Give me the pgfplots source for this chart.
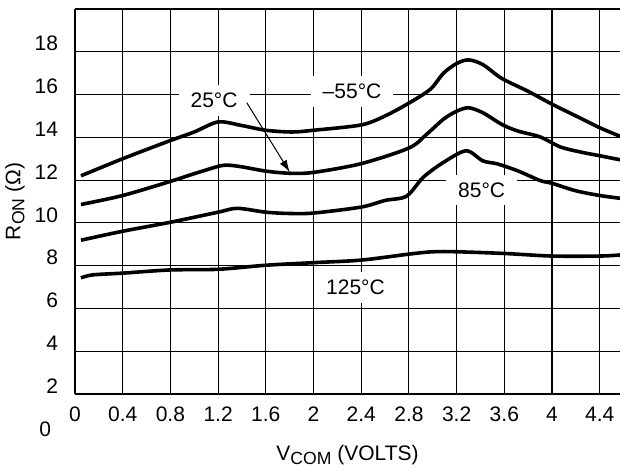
\documentclass[border=0pt]{standalone}
\usepackage{pgfplots}
\pgfplotsset{compat=1.18}
\usepackage{fontspec}
\setmainfont{Liberation Sans}
\usetikzlibrary{arrows.meta}
\newcommand{\sub}[1]{{\fontsize{8.8}{10}\selectfont\raisebox{-2pt}{#1}}}

\begin{document}
\begin{tikzpicture}
\useasboundingbox (-37.5pt,-38pt) rectangle (272.5pt,197pt);
\begin{axis}[
  at={(0,0)}, anchor=south west,
  width=272.5pt, height=192.5pt, scale only axis,
  xmin=0, xmax=4.57, ymin=2, ymax=20,
  axis x line=bottom, axis y line=left,
  axis line style={-, line width=1.1pt},
  xtick={0,0.4,0.8,1.2,1.6,2,2.4,2.8,3.2,3.6,4,4.4},
  xticklabels={0,0.4,0.8,1.2,1.6,2,2.4,2.8,3.2,3.6,4,4.4},
  ytick={2,4,6,8,10,12,14,16,18,20},
  yticklabels={2,4,6,8,10,12,14,16,18,{}},
  major tick length=0pt,
  grid=major,
  major grid style={line width=0.55pt, black},
  /pgf/number format/assume math mode=true,
  tick label style={font=\fontsize{10.5}{12}\selectfont},
  xticklabel style={yshift=-3pt},
  yticklabel style={anchor=east, xshift=-5pt, yshift=4pt},
  xlabel={V\sub{COM} (VOLTS)},
  ylabel={R\sub{ON} (Ω)},
  every axis x label/.style={at={(axis description cs:0.5,-0.158)}, anchor=center, font=\fontsize{10.5}{12}\selectfont},
  every axis y label/.style={at={(axis description cs:-0.11,0.5)}, rotate=90, anchor=center, font=\fontsize{10.5}{12}\selectfont},
  clip=false,
]
\node[anchor=east, font=\fontsize{10.5}{12}\selectfont, xshift=-8.5pt, yshift=4pt] at (axis cs:0,0) {0};

\node[fill=white, inner xsep=6pt, inner ysep=4pt, font=\fontsize{10.5}{12}\selectfont] at (axis cs:1.166,15.71) {25°C};
\node[fill=white, inner xsep=6pt, inner ysep=4pt, font=\fontsize{10.5}{12}\selectfont] at (axis cs:2.323,16.15) {–55°C};
\node[fill=white, inner xsep=6pt, inner ysep=4pt, font=\fontsize{10.5}{12}\selectfont] at (axis cs:3.41,11.54) {85°C};
\node[fill=white, inner xsep=6pt, inner ysep=4pt, font=\fontsize{10.5}{12}\selectfont] at (axis cs:2.352,6.99) {125°C};
\draw[line width=0.5pt, -{Latex[length=6pt,width=4pt]}] (axis cs:1.44,15.62) -- (axis cs:1.80,12.38);

% -55 C
\addplot[black, line width=1.8pt, smooth] coordinates {(0.05,12.2) (0.4,13.0) (0.8,13.85) (1.0,14.25) (1.2,14.72) (1.4,14.55) (1.6,14.33) (1.82,14.25) (2.0,14.33) (2.4,14.58) (2.6,15.0) (2.8,15.6) (2.98,16.25) (3.09,17.0) (3.2,17.45) (3.3,17.62) (3.42,17.4) (3.58,16.75) (3.8,16.15) (4.0,15.55) (4.2,15.0) (4.4,14.45) (4.57,14.05)};
% 25 C
\addplot[black, line width=1.8pt, smooth] coordinates {(0.05,10.86) (0.4,11.28) (0.8,11.94) (1.0,12.3) (1.2,12.64) (1.28,12.7) (1.4,12.62) (1.6,12.42) (1.8,12.32) (2.0,12.36) (2.4,12.77) (2.8,13.5) (2.95,14.15) (3.09,14.85) (3.2,15.22) (3.3,15.38) (3.42,15.15) (3.58,14.6) (3.71,14.3) (3.9,14.02) (4.07,13.55) (4.25,13.3) (4.4,13.14) (4.57,12.95)};
% 85 C
\addplot[black, line width=1.8pt, smooth] coordinates {(0.05,9.19) (0.4,9.61) (0.8,10.03) (1.2,10.5) (1.36,10.68) (1.6,10.5) (1.8,10.44) (2.0,10.46) (2.4,10.74) (2.6,11.05) (2.78,11.25) (2.92,12.13) (3.09,12.83) (3.28,13.37) (3.42,12.9) (3.54,12.76) (3.71,12.44) (3.9,11.98) (4.0,11.85) (4.2,11.5) (4.4,11.28) (4.57,11.15)};
% 125 C
\addplot[black, line width=1.8pt, smooth] coordinates {(0.05,7.43) (0.15,7.57) (0.4,7.65) (0.8,7.8) (1.2,7.83) (1.6,8.02) (2.0,8.14) (2.4,8.26) (2.8,8.54) (3.0,8.65) (3.2,8.65) (3.6,8.57) (4.0,8.45) (4.4,8.45) (4.57,8.5)};
\end{axis}
\end{tikzpicture}
\end{document}
